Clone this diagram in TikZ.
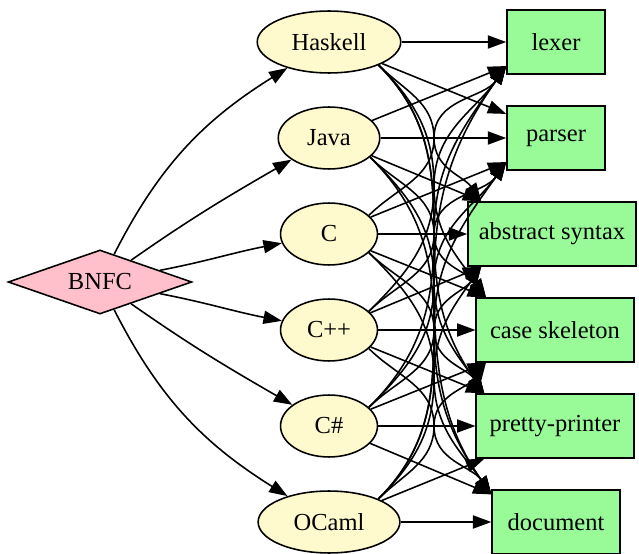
\documentclass[tikz,border=0pt]{standalone}
\usepackage{fontspec}
\setmainfont{Liberation Serif}
\usetikzlibrary{shapes.geometric,arrows.meta}

\definecolor{lemon}{RGB}{255,250,205}
\definecolor{rose}{RGB}{255,192,203}
\definecolor{mint}{RGB}{152,251,152}

\tikzset{
  lang/.style={ellipse, draw, fill=lemon, line width=0.9pt, minimum height=35.4pt, inner sep=0pt},
  outbox/.style={rectangle, draw, fill=mint, line width=0.9pt, minimum height=36.6pt, inner sep=0pt},
  root/.style={diamond, draw, fill=rose, line width=0.9pt, aspect=2.9, minimum width=105pt, minimum height=36.6pt, inner sep=0pt},
  edge/.style={line width=0.9pt, -{Triangle[length=10.5pt,width=7.5pt]}}
}

\begin{document}
\begin{tikzpicture}[x=0.5714pt, y=-0.5714pt, font=\fontsize{14pt}{16pt}\selectfont]
\useasboundingbox (0,0) rectangle (639,554);

% generator
\node[root] (bnfc) at (100,282) {BNFC};

% languages
\node[lang, minimum width=82pt] (has) at (329,42) {Haskell};
\node[lang, minimum width=58pt] (jav) at (329,138) {Java};
\node[lang, minimum width=55.4pt] (c) at (329,234) {C};
\node[lang, minimum width=55.4pt] (cpp) at (329,330) {C++};
\node[lang, minimum width=55.4pt] (cs) at (329,426) {C\#};
\node[lang, minimum width=81pt] (ocm) at (329,522) {OCaml};

% outputs
\node[outbox, minimum width=56pt] (lex) at (556,42) {lexer};
\node[outbox, minimum width=56pt] (par) at (556,138) {parser};
\node[outbox, minimum width=96pt] (abs) at (552,234) {abstract syntax};
\node[outbox, minimum width=90pt] (cas) at (555,330) {case skeleton};
\node[outbox, minimum width=90pt] (pp) at (555,426) {pretty-printer};
\node[outbox, minimum width=73pt] (doc) at (556,522) {document};

% BNFC to every language
\foreach \s/\aout/\ain in {has/63/-148, jav/35/-150, c/11/-169, cpp/-11/169, cs/-35/150, ocm/-63/148}
  \draw[edge] (bnfc) to[out=\aout, in=\ain] (\s);

% every language to every output, the far ones bundled at x=434
\foreach \s [count=\i] in {has,jav,c,cpp,cs,ocm}
  \foreach \t/\ox/\oy [count=\j] in {lex/0/5, par/0/5, abs/8/0, cas/6/0, pp/5/0, doc/0/3} {
    \pgfmathtruncatemacro\diff{\j-\i}
    \pgfmathsetmacro\ymid{42+48*(\i+\j-2)}
    \coordinate (top) at ([shift={(\ox pt,-\oy pt)}]\t.north west);
    \coordinate (bot) at ([shift={(\ox pt,\oy pt)}]\t.south west);
    \ifnum\diff=0
      \draw[edge] (\s) -- (\t);
    \else\ifnum\diff=1
      \draw[edge] (\s) -- (top);
    \else\ifnum\diff=-1
      \draw[edge] (\s) -- (bot);
    \else\ifnum\diff>0
      \draw[edge] (\s.-25) to[out=-45, in=90] (434,\ymid) to[out=-90, in=125] (top);
    \else
      \draw[edge] (\s.25) to[out=45, in=-90] (434,\ymid) to[out=90, in=-125] (bot);
    \fi\fi\fi\fi
  }

\end{tikzpicture}
\end{document}
